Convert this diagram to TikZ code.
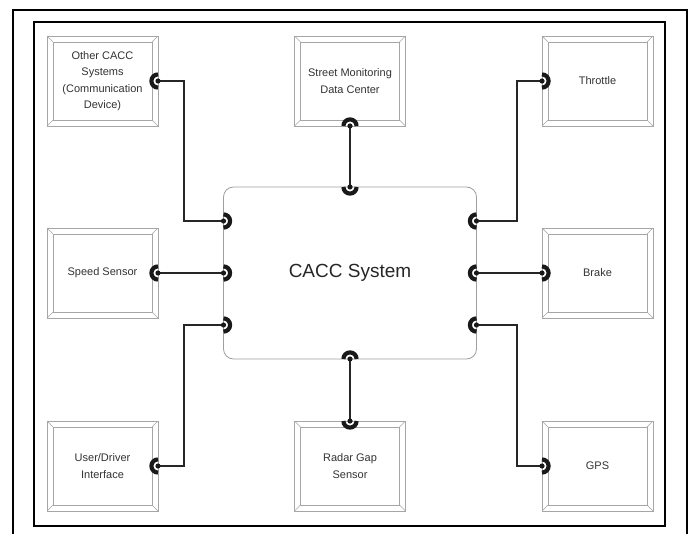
\documentclass[tikz,border=0pt]{standalone}
\usepackage{fontspec}
\setmainfont{Liberation Sans}
\usetikzlibrary{calc}

% ball-and-socket port: point, direction into the box
\newcommand{\plug}[2]{%
  \draw[line width=4.2pt,black!90] (#1) ++({#2+90}:6.6) arc[start angle={#2+90},delta angle=-180,radius=6.6];
  \fill[black!90] (#1) circle (2.6);}

\begin{document}
\begin{tikzpicture}[x=1pt,y=-1pt,
  unitbox/.style={draw=gray!70,line width=0.8pt,fill=white,minimum width=111pt,minimum height=90pt,
    inner sep=0pt,outer sep=0pt,align=center,text=black!80,font=\fontsize{11}{16.5}\selectfont,
    path picture={
      \draw[gray!70,line width=0.8pt] ([xshift=6pt,yshift=-6pt]path picture bounding box.north west)
        rectangle ([xshift=-6pt,yshift=6pt]path picture bounding box.south east);
      \foreach \a/\dx/\dy in {north west/6/-6,north east/-6/-6,south west/6/6,south east/-6/6}
        \draw[gray!70,line width=0.6pt] (path picture bounding box.\a) -- ([xshift=\dx pt,yshift=\dy pt]path picture bounding box.\a);
    }},
  link/.style={line width=1.4pt,black!85}]
  \useasboundingbox (0,0) rectangle (690,534);
  % frames
  \draw[line width=1.6pt] (13,534) -- (13,10) -- (687,10) -- (687,534);
  \draw[line width=2.6pt] (34,22) rectangle (665,526);
  % outer units
  \node[unitbox] (other) at (102.5,81) {Other CACC\\Systems\\(Communication\\Device)};
  \node[unitbox] (monitor) at (350,81) {Street Monitoring\\Data Center};
  \node[unitbox] (throttle) at (597.5,81) {Throttle};
  \node[unitbox] (speed) at (102.5,273) {Speed Sensor};
  \node[unitbox] (brake) at (597.5,273) {Brake};
  \node[unitbox] (driver) at (102.5,466) {User/Driver\\Interface};
  \node[unitbox] (radar) at (350,466) {Radar Gap\\Sensor};
  \node[unitbox] (gps) at (597.5,466) {GPS};
  % central unit
  \node[draw=gray!75,line width=0.8pt,rounded corners=10pt,minimum width=253pt,minimum height=172pt,
    outer sep=0pt,text=black!85,font=\fontsize{19}{22}\selectfont] (cacc) at (350,273) {CACC System};
  \coordinate (w1) at ([yshift=52pt]cacc.west);
  \coordinate (w2) at (cacc.west);
  \coordinate (w3) at ([yshift=-52pt]cacc.west);
  \coordinate (e1) at ([yshift=52pt]cacc.east);
  \coordinate (e2) at (cacc.east);
  \coordinate (e3) at ([yshift=-52pt]cacc.east);
  % links
  \draw[link] (other.east) -- ++(26,0) |- (w1);
  \draw[link] (speed.east) -- (w2);
  \draw[link] (driver.east) -- ++(26,0) |- (w3);
  \draw[link] (throttle.west) -- ++(-25,0) |- (e1);
  \draw[link] (brake.west) -- (e2);
  \draw[link] (gps.west) -- ++(-25,0) |- (e3);
  \draw[link] (monitor.south) -- (cacc.north);
  \draw[link] (cacc.south) -- (radar.north);
  % ports
  \plug{w1}{0} \plug{w2}{0} \plug{w3}{0}
  \plug{e1}{180} \plug{e2}{180} \plug{e3}{180}
  \plug{cacc.north}{90} \plug{cacc.south}{-90}
  \plug{other.east}{180} \plug{speed.east}{180} \plug{driver.east}{180}
  \plug{throttle.west}{0} \plug{brake.west}{0} \plug{gps.west}{0}
  \plug{monitor.south}{-90} \plug{radar.north}{90}
\end{tikzpicture}
\end{document}
